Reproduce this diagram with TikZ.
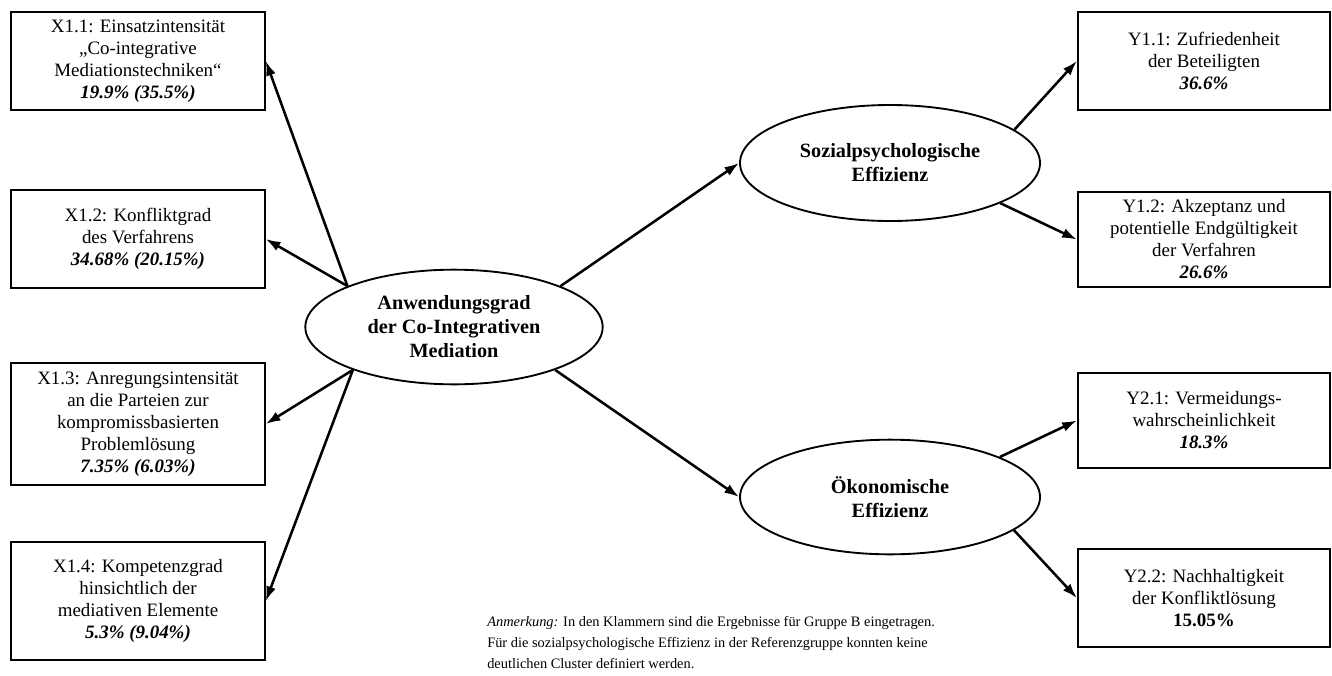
\documentclass[tikz,border=0pt]{standalone}
\usepackage{fontspec}
\setmainfont{Liberation Serif}
\usetikzlibrary{shapes.geometric,arrows.meta}

\newcommand{\pct}[1]{\textbf{\textit{#1}}}

\tikzset{
  item/.style={draw, line width=1.7pt, align=center, minimum width=190pt, inner sep=2pt,
    font=\fontsize{14.2}{16.5}\selectfont},
  latent/.style={draw, ellipse, line width=1.4pt, align=center, inner sep=0pt,
    font=\fontsize{15.2}{18}\selectfont\bfseries},
  effect/.style={line width=1.9pt, -{Latex[length=11pt,width=7.5pt]}}
}

\begin{document}
\begin{tikzpicture}[x=0.75pt, y=-0.75pt]
        \useasboundingbox (0,0) rectangle (1332,675);
        %Anwendungsgrad
        \node[latent, minimum width=223pt, minimum height=86pt] (mid) at (454,327)
            {Anwendungsgrad\\der Co-Integrativen\\Mediation};
        %X indicators
        \node[item, minimum height=73.5pt] (x11) at (138,61)
            {X1.1: Einsatzintensität\\„Co-integrative\\Mediationstechniken“\\\pct{19.9\% (35.5\%)}};
        \node[item, minimum height=73.5pt] (x12) at (138,239)
            {X1.2: Konfliktgrad\\des Verfahrens\\\pct{34.68\% (20.15\%)}};
        \node[item, minimum height=91.5pt] (x13) at (138,424)
            {X1.3: Anregungsintensität\\an die Parteien zur\\kompromissbasierten\\Problemlösung\\\pct{7.35\% (6.03\%)}};
        \node[item, minimum height=88.5pt] (x14) at (138,601)
            {X1.4: Kompetenzgrad\\hinsichtlich der\\mediativen Elemente\\\pct{5.3\% (9.04\%)}};
        \draw[effect] (mid.159) -- (x11.east);
        \draw[effect] (mid.159) -- (x12.east);
        \draw[effect] (mid.203) -- (x13.east);
        \draw[effect] (mid.203) -- (x14.east);
        %Effizienz
        \node[latent, minimum width=225pt, minimum height=87pt] (soz) at (890,163)
            {Sozialpsychologische\\Effizienz};
        \node[latent, minimum width=225pt, minimum height=86pt] (oek) at (890,497)
            {Ökonomische\\Effizienz};
        \draw[effect] (mid.21) -- (soz.west);
        \draw[effect] (mid.-23) -- (oek.west);
        %Y indicators
        \node[item, minimum width=189pt, minimum height=73.5pt] (y11) at (1204,61)
            {Y1.1: Zufriedenheit\\der Beteiligten\\\pct{36.6\%}};
        \node[item, minimum width=189pt, minimum height=71.25pt] (y12) at (1204,239.5)
            {Y1.2: Akzeptanz und\\potentielle Endgültigkeit\\der Verfahren\\\pct{26.6\%}};
        \node[item, minimum width=189pt, minimum height=71.25pt] (y21) at (1204,420.5)
            {Y2.1: Vermeidungs-\\wahrscheinlichkeit\\\pct{18.3\%}};
        \node[item, minimum width=189pt, minimum height=73.5pt] (y22) at (1204,598)
            {Y2.2: Nachhaltigkeit\\der Konfliktlösung\\\textbf{15.05\%}};
        \draw[effect] (soz.15) -- (y11.west);
        \draw[effect] (soz.-20) -- (y12.west);
        \draw[effect] (oek.20) -- (y21.west);
        \draw[effect] (oek.-15) -- (y22.west);
        %Anmerkung
        \node[anchor=north west, align=left, inner sep=0pt,
              font=\fontsize{10.8}{15.75}\selectfont] (note) at (487,616)
            {\textit{Anmerkung:} In den Klammern sind die Ergebnisse für Gruppe B eingetragen.\\
             Für die sozialpsychologische Effizienz in der Referenzgruppe konnten keine\\
             deutlichen Cluster definiert werden.};
    \end{tikzpicture}
\end{document}
